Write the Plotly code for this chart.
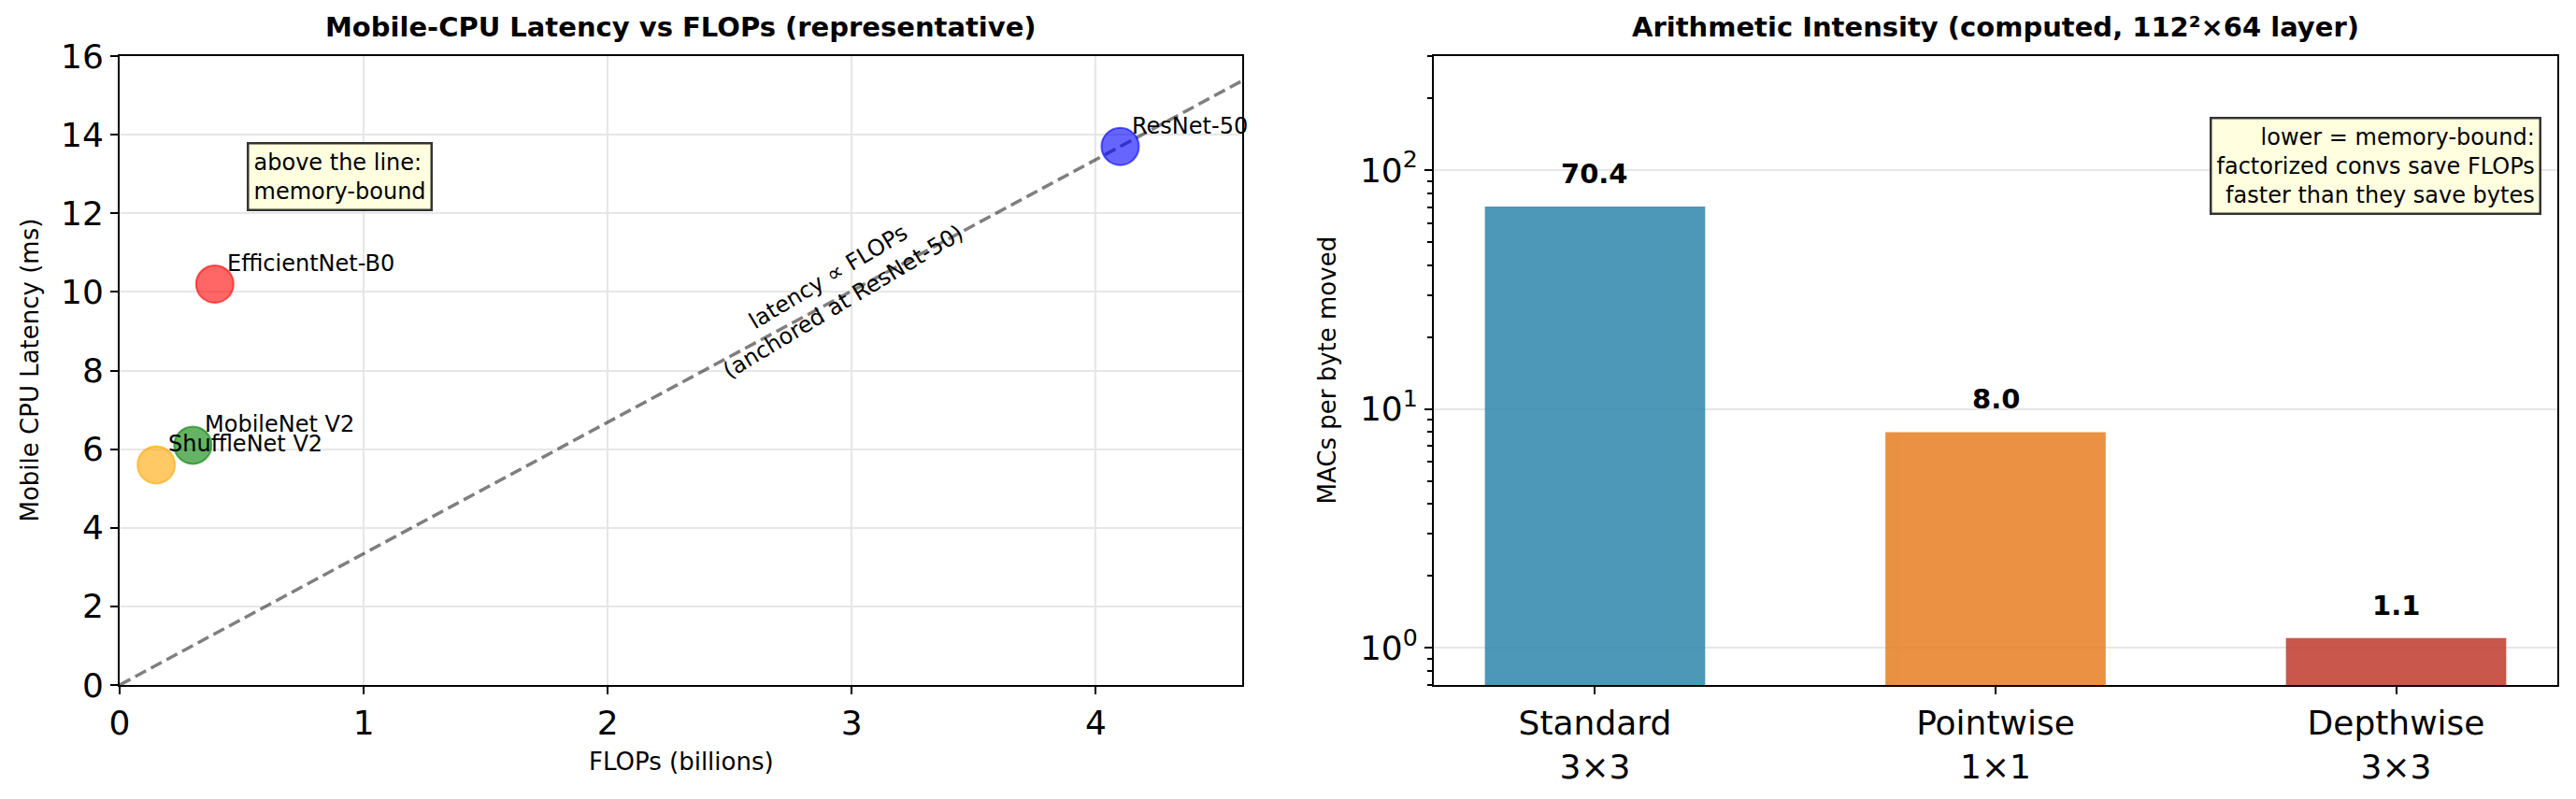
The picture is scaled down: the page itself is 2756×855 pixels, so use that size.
import math
import plotly.graph_objects as go

# left panel: representative mobile-CPU numbers
models = ['ShuffleNet V2', 'MobileNet V2', 'EfficientNet-B0', 'ResNet-50']
flops = [0.15, 0.30, 0.39, 4.1]
latency = [5.6, 6.1, 10.2, 13.7]
point_colors = ['255,165,0', '0,128,0', '255,0,0', '0,0,255']

# right panel: arithmetic intensity per conv type
conv_types = ['Standard<br>3×3', 'Pointwise<br>1×1', 'Depthwise<br>3×3']
intensity = [70.4, 8.0, 1.1]
bar_colors = ['#2E86AB', '#E67E22', '#C0392B']

W, H = 2756, 855
OFF = 8  # page body margin
FONT = 'DejaVu Sans'
xmax = 4.6


def px(v):
    return (v - OFF) / W


def py(v):
    return 1 - (v - OFF) / H


fig = go.Figure()

# latency proportional to flops, anchored at resnet-50
slope = latency[3] / flops[3]
line_x = [0, xmax]
line_y = [slope * v for v in line_x]
fig.add_trace(go.Scatter(
    x=line_x, y=line_y, mode='lines',
    line=dict(color='rgba(0,0,0,0.5)', width=3.5, dash='13px,6px'),
    xaxis='x', yaxis='y', hoverinfo='skip', showlegend=False,
))

fig.add_trace(go.Scatter(
    x=flops, y=latency, mode='markers',
    marker=dict(
        size=40,
        color=['rgba(%s,0.6)' % c for c in point_colors],
        line=dict(color=['rgba(%s,0.6)' % c for c in point_colors], width=2),
    ),
    xaxis='x', yaxis='y', showlegend=False,
))

fig.add_trace(go.Bar(
    x=conv_types, y=intensity, width=0.55,
    marker=dict(color=bar_colors, line=dict(width=0)),
    opacity=0.85,
    xaxis='x2', yaxis='y2', showlegend=False,
))

annotations = []

for m, fx, ly in zip(models, flops, latency):
    annotations.append(dict(
        x=fx, y=ly, xref='x', yref='y', text=m, showarrow=False,
        xanchor='left', yanchor='bottom', xshift=11, yshift=6,
        font=dict(family=FONT, size=24, color='black'),
    ))

annotations.append(dict(
    x=2.935, y=10.06, xref='x', yref='y',
    text='latency ∝ FLOPs<br>(anchored at ResNet-50)', showarrow=False,
    textangle=-31, font=dict(family=FONT, size=24, color='black'),
))

annotations.append(dict(
    x=0.52, y=13.81, xref='x', yref='y', xanchor='left', yanchor='top',
    text='above the line:<br>memory-bound', align='left', showarrow=False,
    bgcolor='#FFFFE0', bordercolor='rgba(0,0,0,0.8)', borderwidth=2.5, borderpad=5,
    font=dict(family=FONT, size=24, color='black'),
))

annotations.append(dict(
    x=0.986, y=0.903, xref='x2 domain', yref='y2 domain',
    xanchor='right', yanchor='top',
    text='lower = memory-bound:<br>factorized convs save FLOPs<br>faster than they save bytes',
    align='right', showarrow=False,
    bgcolor='#FFFFE0', bordercolor='rgba(0,0,0,0.8)', borderwidth=2.5, borderpad=5,
    font=dict(family=FONT, size=24, color='black'),
))

for c, v in zip(conv_types, intensity):
    annotations.append(dict(
        x=c, y=math.log10(v) + 0.137, xref='x2', yref='y2',
        text='<b>%.1f</b>' % v, showarrow=False, yanchor='middle',
        font=dict(family=FONT, size=29, color='black'),
    ))

# titles and axis labels
annotations += [
    dict(x=0.5, y=1, xref='x domain', yref='y domain', yanchor='bottom', yshift=12,
         text='<b>Mobile-CPU Latency vs FLOPs (representative)</b>', showarrow=False,
         font=dict(family=FONT, size=29, color='black')),
    dict(x=0.5, y=1, xref='x2 domain', yref='y2 domain', yanchor='bottom', yshift=12,
         text='<b>Arithmetic Intensity (computed, 112²×64 layer)</b>', showarrow=False,
         font=dict(family=FONT, size=29, color='black')),
    dict(x=0.5, y=py(815), xref='x domain', yref='paper', yanchor='middle',
         text='FLOPs (billions)', showarrow=False,
         font=dict(family=FONT, size=26, color='black')),
    dict(x=px(31), y=0.5, xref='paper', yref='y domain', xanchor='center',
         text='Mobile CPU Latency (ms)', textangle=-90, showarrow=False,
         font=dict(family=FONT, size=26, color='black')),
    dict(x=px(1419), y=0.5, xref='paper', yref='y2 domain', xanchor='center',
         text='MACs per byte moved', textangle=-90, showarrow=False,
         font=dict(family=FONT, size=26, color='black')),
]

axis_common = dict(
    showline=True, linecolor='black', linewidth=2, mirror=True,
    ticks='outside', ticklen=8, tickwidth=2, tickcolor='black',
    tickfont=dict(family=FONT, size=36, color='black'),
    zeroline=False, automargin=False,
)

minor_vals = [0.7, 0.8, 0.9] + [k for k in range(2, 10)] + [k * 10 for k in range(2, 10)] + [200, 300]

fig.update_layout(
    width=W, height=H,
    margin=dict(l=0, r=0, t=0, b=0),
    paper_bgcolor='white', plot_bgcolor='white',
    font=dict(family=FONT, color='black'),
    xaxis=dict(domain=[px(128), px(1329)], range=[0, xmax], dtick=1,
               showgrid=True, gridcolor='#e6e6e6', gridwidth=2, anchor='y', **axis_common),
    yaxis=dict(domain=[py(733), py(60)], range=[0, 16], dtick=2,
               showgrid=True, gridcolor='#e6e6e6', gridwidth=2, anchor='x', **axis_common),
    xaxis2=dict(domain=[px(1534), px(2736)], range=[-0.4025, 2.4025],
                showgrid=False, anchor='y2', **axis_common),
    yaxis2=dict(domain=[py(733), py(60)], type='log',
                range=[math.log10(0.7), math.log10(300)],
                tickvals=[1, 10, 100], ticktext=['10<sup>0</sup>', '10<sup>1</sup>', '10<sup>2</sup>'],
                minor=dict(tickvals=minor_vals, ticks='outside', ticklen=5, tickwidth=1.5,
                           tickcolor='black', showgrid=False),
                showgrid=True, gridcolor='#e6e6e6', gridwidth=2, anchor='x2', **axis_common),
    annotations=annotations,
)

fig.write_html('out.html')
